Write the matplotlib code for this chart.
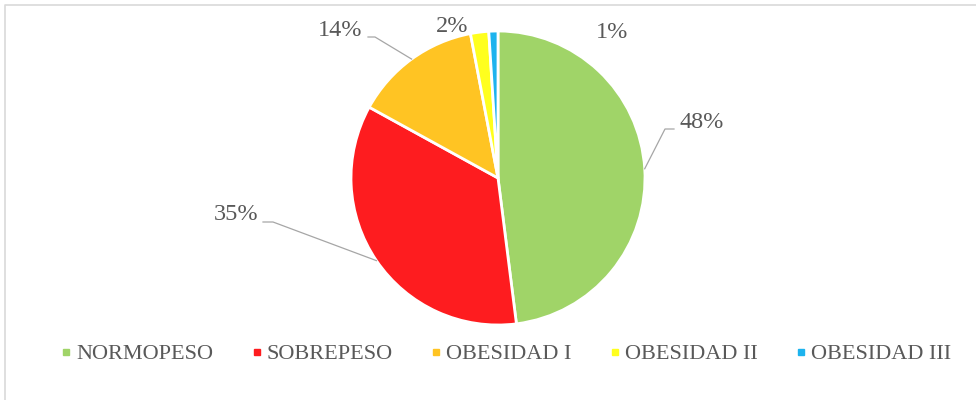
#imports for plotting
import numpy as np
import matplotlib.pyplot as plt
from matplotlib.lines import Line2D

#data
categories = ["NORMOPESO", "SOBREPESO", "OBESIDAD I", "OBESIDAD II", "OBESIDAD III"]
percentages = [48, 35, 14, 2, 1]
colors = ["#A0D468", "#FE1C1F", "#FFC423", "#FFFF1E", "#1DB3EE"]

#label placement (pixels, y measured from top), None means no leader line
label_pos = [(702, 123), (236, 214), (340, 31), (452, 27), (612, 33)]
elbows = [[(665, 129), (674, 129)], [(273, 222), (263, 222)], [(375, 37), (368, 37)], None, None]

text_color = "#595959"
plt.rcParams['font.family'] = ['Liberation Serif', 'DejaVu Serif']

W, H = 976, 400
fig = plt.figure(figsize=(W / 100, H / 100), dpi=100)
ax = fig.add_axes([0, 0, 1, 1])

cx, cy, r = 498, H - 178, 147
wedges, _ = ax.pie(percentages, colors=colors, startangle=90, counterclock=False,
                   center=(cx, cy), radius=r,
                   wedgeprops=dict(edgecolor="white", linewidth=2))

ax.set_xlim(0, W)
ax.set_ylim(0, H)
ax.set_aspect("equal")
ax.axis("off")

#percentage labels with leader lines to the middle of each slice
for i, w in enumerate(wedges):
    tx, ty = label_pos[i]
    ax.text(tx, H - ty, f"{percentages[i]}%", ha="center", va="center",
            fontsize=17.5, color=text_color)
    if elbows[i] is not None:
        mid = np.deg2rad((w.theta1 + w.theta2) / 2)
        ex, ey = cx + r * np.cos(mid), cy + r * np.sin(mid)
        xs = [ex] + [p[0] for p in elbows[i]]
        ys = [ey] + [H - p[1] for p in elbows[i]]
        ax.plot(xs, ys, color="#A6A6A6", linewidth=0.9)

#legend along the bottom
handles = [Line2D([], [], marker="s", linestyle="none", markersize=5,
                  markerfacecolor=c, markeredgecolor=c) for c in colors]
ax.legend(handles, categories, ncol=5, loc="center", bbox_to_anchor=(506, H - 354),
          bbox_transform=ax.transData, frameon=False, fontsize=16,
          labelcolor=text_color, handlelength=0.5, handletextpad=0.2,
          columnspacing=1.7, borderpad=0)

#chart area border (only top and left edges visible)
ax.plot([5, 5, W], [0, H - 5, H - 5], color="#D9D9D9", linewidth=1.2)

fig.savefig("out.png", dpi=100)
